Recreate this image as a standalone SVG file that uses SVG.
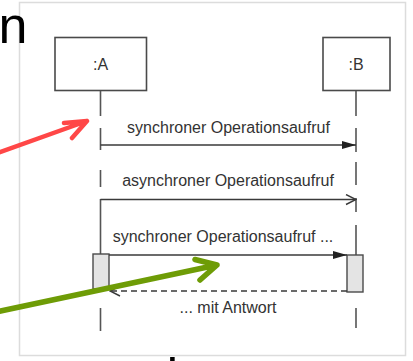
<svg xmlns="http://www.w3.org/2000/svg" width="413" height="361" viewBox="0 0 413 361">
<defs>
<style>
.box{fill:#fff;stroke:#4a4a4a;stroke-width:1.6}
.life{fill:none;stroke:#555;stroke-width:1.6}
.act{fill:#e4e4e4;stroke:#4a4a4a;stroke-width:1.4}
.msg{fill:none;stroke:#3a3a3a;stroke-width:1.4}
.lbl{font-family:"Liberation Sans",Arial,sans-serif;font-size:16px;fill:#333;text-anchor:middle}
.big{font-family:"Liberation Sans",Arial,sans-serif;font-size:52px;fill:#000}
</style>
<marker id="filled" viewBox="0 0 14 10" refX="14" refY="5" markerWidth="14" markerHeight="10" markerUnits="userSpaceOnUse" orient="auto">
<path d="M0,1 L14,5 L0,9 Z" fill="#222"/>
</marker>
<marker id="open" viewBox="0 0 12 12" refX="11" refY="6" markerWidth="12" markerHeight="12" markerUnits="userSpaceOnUse" orient="auto">
<path d="M1,1 L11,6 L1,11" fill="none" stroke="#3a3a3a" stroke-width="1.4"/>
</marker>
</defs>
<rect x="0" y="0" width="413" height="361" fill="#fff"/>
<rect x="19.5" y="2.5" width="386" height="353" fill="#fff" stroke="#dcdcdc" stroke-width="1.5"/>

<g id="node-A">
<rect class="box" x="55" y="37.5" width="91.5" height="53"/>
<text class="lbl" x="100.5" y="70">:A</text>
<path class="life" d="M100.5,91 V116 M100.5,128 V150 M100.5,170 V187 M100.5,199 V254 M100.5,308 V331"/>
<rect class="act" x="93" y="254" width="16" height="35"/>
</g>

<g id="node-B">
<rect class="box" x="323" y="37.5" width="67" height="53"/>
<text class="lbl" x="356" y="70">:B</text>
<path class="life" d="M356,91 V116 M356,128 V152 M356,162 V185 M356,198 V212 M356,225 V255 M356,308 V328"/>
<rect class="act" x="347" y="255" width="16" height="37"/>
</g>

<g id="connectors">
<line class="msg" x1="100.5" y1="145" x2="356" y2="145" marker-end="url(#filled)"/>
<text class="lbl" x="228.5" y="133">synchroner Operationsaufruf</text>
<line class="msg" x1="100.5" y1="199.5" x2="356" y2="199.5" marker-end="url(#open)"/>
<text class="lbl" x="228" y="186">asynchroner Operationsaufruf</text>
<line class="msg" x1="109" y1="255" x2="347" y2="255" marker-end="url(#filled)"/>
<text class="lbl" x="223" y="242">synchroner Operationsaufruf ...</text>
<line class="msg" x1="347" y1="291" x2="110" y2="291" stroke-dasharray="6,4" marker-end="url(#open)"/>
<text class="lbl" x="228" y="313">... mit Antwort</text>
</g>

<g id="annotations" fill="none" stroke-linecap="round" stroke-linejoin="round">
<path d="M-4,153.5 L87,121 M64,123 L87,121 L72,138" stroke="#ff4747" stroke-width="4.5"/>
<path d="M-4,312 L217,265 M195,259.5 L217,265 L200,280" stroke="#6e9c06" stroke-width="5.5"/>
</g>

<text class="big" x="-1.5" y="43">n</text>
<text class="big" x="146" y="395" letter-spacing="6">th</text>
</svg>
